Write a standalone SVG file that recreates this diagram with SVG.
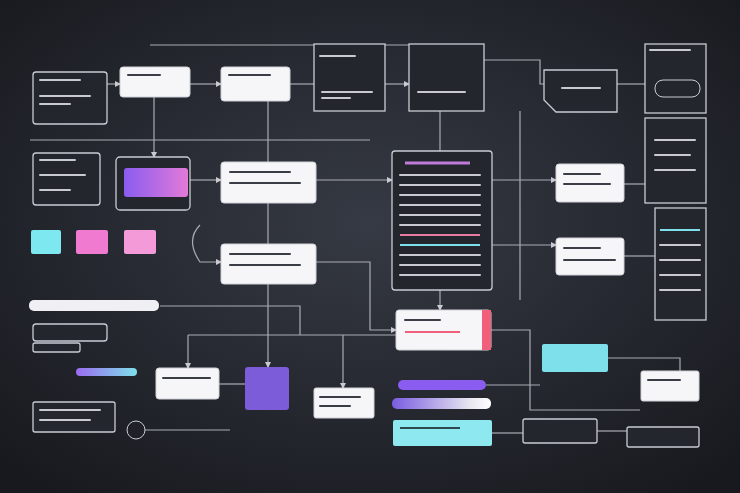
<svg xmlns="http://www.w3.org/2000/svg" width="740" height="493" viewBox="0 0 740 493">
<defs>
<radialGradient id="bg" cx="50%" cy="45%" r="70%"><stop offset="0" stop-color="#363a44"/><stop offset="1" stop-color="#17191e"/></radialGradient>
<linearGradient id="pg" x1="0" x2="1"><stop offset="0" stop-color="#8a5cf0"/><stop offset="1" stop-color="#e27ad8"/></linearGradient>
<linearGradient id="pc" x1="0" x2="1"><stop offset="0" stop-color="#9a6cf0"/><stop offset="1" stop-color="#7ee0ea"/></linearGradient>
<linearGradient id="pw" x1="0" x2="1"><stop offset="0" stop-color="#7a5ce0"/><stop offset="0.8" stop-color="#e8e8f0"/><stop offset="1" stop-color="#fff"/></linearGradient>
<marker id="a" viewBox="0 0 6 6" refX="5" refY="3" markerWidth="5" markerHeight="5" orient="auto"><path d="M0,0L6,3L0,6z" fill="#c8cad0"/></marker>
<style>
.d{fill:#23262d;stroke:#c9ccd3;stroke-width:1.3}
.w{fill:#f6f6f8;stroke:#d0d2d8;stroke-width:1}
.c{fill:none;stroke:#a9acb4;stroke-width:1.2}
.l{stroke:#c8cad0;stroke-width:2;stroke-linecap:round}
.k{stroke:#3a3d46;stroke-width:2;stroke-linecap:round}
</style>
</defs>
<rect width="740" height="493" fill="url(#bg)"/>
<g id="connectors">
<path class="c" d="M107,84H120" marker-end="url(#a)"/>
<path class="c" d="M190,84H221" marker-end="url(#a)"/>
<path class="c" d="M290,84H314"/>
<path class="c" d="M385,84H409" marker-end="url(#a)"/>
<path class="c" d="M484,60H540V84H544"/>
<path class="c" d="M617,84H645"/>
<path class="c" d="M154,97V157" marker-end="url(#a)"/>
<path class="c" d="M190,180H221" marker-end="url(#a)"/>
<path class="c" d="M316,180H392" marker-end="url(#a)"/>
<path class="c" d="M268,101V162"/>
<path class="c" d="M268,203V244"/>
<path class="c" d="M200,225Q185,240 200,262H221" marker-end="url(#a)"/>
<path class="c" d="M440,111V151"/>
<path class="c" d="M492,180H556" marker-end="url(#a)"/>
<path class="c" d="M520,111V300"/>
<path class="c" d="M492,245H556" marker-end="url(#a)"/>
<path class="c" d="M624,184H645"/>
<path class="c" d="M624,256H655"/>
<path class="c" d="M440,290V310" marker-end="url(#a)"/>
<path class="c" d="M316,262H370V330H396" marker-end="url(#a)"/>
<path class="c" d="M491,330H530V410H640"/>
<path class="c" d="M188,335H396"/>
<path class="c" d="M188,335V368" marker-end="url(#a)"/>
<path class="c" d="M268,284V367" marker-end="url(#a)"/>
<path class="c" d="M343,335V388" marker-end="url(#a)"/>
<path class="c" d="M608,358H680V371"/>
<path class="c" d="M597,431H627"/>
<path class="c" d="M492,433H523"/>
<path class="c" d="M486,385H540"/>
<path class="c" d="M219,384H245"/>
<path class="c" d="M60,330H107"/>
<path class="c" d="M145,430H230"/>
<path class="c" d="M160,306H300V335"/>
<path class="c" d="M30,140H370"/>
<path class="c" d="M150,45H440V60"/>
</g>
<g id="n1"><rect class="d" x="33" y="72" width="74" height="52" rx="3"/><line class="l" x1="40" y1="80" x2="80" y2="80"/><line class="l" x1="40" y1="96" x2="90" y2="96"/><line class="l" x1="40" y1="104" x2="70" y2="104"/></g>
<g id="n2"><rect class="w" x="120" y="67" width="70" height="30" rx="3"/><line class="k" x1="128" y1="75" x2="160" y2="75"/></g>
<g id="n3"><rect class="w" x="221" y="67" width="69" height="34" rx="3"/><line class="k" x1="229" y1="75" x2="270" y2="75"/></g>
<g id="n4"><rect class="d" x="314" y="44" width="71" height="67"/><line class="l" x1="320" y1="56" x2="355" y2="56"/><line class="l" x1="322" y1="92" x2="372" y2="92"/><line class="l" x1="322" y1="98" x2="350" y2="98"/></g>
<g id="n5"><rect class="d" x="409" y="44" width="75" height="67"/><line class="l" x1="418" y1="92" x2="465" y2="92"/></g>
<g id="n6"><path class="d" d="M544,70H617V112H556L544,100Z"/><line class="l" x1="562" y1="88" x2="600" y2="88"/></g>
<g id="n7"><rect class="d" x="645" y="44" width="61" height="69"/><rect x="655" y="80" width="45" height="17" rx="8" fill="none" stroke="#c9ccd3"/><line class="l" x1="650" y1="50" x2="690" y2="50"/></g>
<g id="n8"><rect class="d" x="645" y="118" width="61" height="85"/><line class="l" x1="655" y1="140" x2="695" y2="140"/><line class="l" x1="655" y1="155" x2="690" y2="155"/><line class="l" x1="655" y1="170" x2="695" y2="170"/></g>
<g id="n9"><rect class="d" x="655" y="208" width="51" height="112"/><line x1="660" y1="230" x2="700" y2="230" stroke="#7ee0ea" stroke-width="2"/><line class="l" x1="660" y1="245" x2="700" y2="245"/><line class="l" x1="660" y1="260" x2="700" y2="260"/><line class="l" x1="660" y1="275" x2="700" y2="275"/><line class="l" x1="660" y1="290" x2="700" y2="290"/></g>
<g id="n10"><rect class="d" x="33" y="153" width="67" height="52" rx="3"/><line class="l" x1="40" y1="160" x2="75" y2="160"/><line class="l" x1="40" y1="175" x2="85" y2="175"/><line class="l" x1="40" y1="190" x2="70" y2="190"/></g>
<g id="n11"><rect class="d" x="116" y="157" width="74" height="53" rx="4"/><rect x="124" y="168" width="64" height="29" rx="3" fill="url(#pg)"/></g>
<g id="n12"><rect class="w" x="221" y="162" width="95" height="41" rx="3"/><line class="k" x1="230" y1="172" x2="290" y2="172"/><line class="k" x1="230" y1="183" x2="300" y2="183"/></g>
<g id="n13"><rect class="d" x="392" y="151" width="100" height="139" rx="3"/><line x1="405" y1="163" x2="470" y2="163" stroke="#c07ad8" stroke-width="3"/>
<g class="l"><line x1="400" y1="175" x2="480" y2="175"/><line x1="400" y1="185" x2="480" y2="185"/><line x1="400" y1="195" x2="480" y2="195"/><line x1="400" y1="205" x2="480" y2="205"/><line x1="400" y1="215" x2="480" y2="215"/><line x1="400" y1="225" x2="480" y2="225"/><line x1="400" y1="255" x2="480" y2="255"/><line x1="400" y1="265" x2="480" y2="265"/><line x1="400" y1="275" x2="480" y2="275"/></g>
<line x1="400" y1="235" x2="480" y2="235" stroke="#e87aa0" stroke-width="2"/><line x1="400" y1="245" x2="480" y2="245" stroke="#7ee0ea" stroke-width="2"/></g>
<g id="n14"><rect class="w" x="556" y="164" width="68" height="38" rx="3"/><line class="k" x1="564" y1="174" x2="600" y2="174"/><line class="k" x1="564" y1="184" x2="610" y2="184"/></g>
<g id="n15"><rect class="w" x="221" y="244" width="95" height="40" rx="3"/><line class="k" x1="230" y1="254" x2="290" y2="254"/><line class="k" x1="230" y1="265" x2="300" y2="265"/></g>
<g id="n16"><rect x="31" y="230" width="30" height="24" rx="2" fill="#7ee8f0"/><rect x="76" y="230" width="32" height="24" rx="2" fill="#f07ad0"/><rect x="124" y="230" width="32" height="24" rx="2" fill="#f59ad8"/></g>
<g id="n17"><rect x="29" y="300" width="130" height="11" rx="5" fill="#f0f0f4"/></g>
<g id="n18"><rect class="w" x="556" y="238" width="68" height="37" rx="3"/><line class="k" x1="564" y1="248" x2="600" y2="248"/><line class="k" x1="564" y1="260" x2="615" y2="260"/></g>
<g id="n19"><rect class="w" x="396" y="310" width="95" height="40" rx="3"/><rect x="482" y="310" width="9" height="40" fill="#f0607a"/><line class="k" x1="405" y1="320" x2="440" y2="320"/><line x1="405" y1="332" x2="460" y2="332" stroke="#f0607a" stroke-width="2"/></g>
<g id="n20"><rect class="d" x="33" y="324" width="74" height="17" rx="3"/><rect class="d" x="33" y="343" width="47" height="9" rx="2"/></g>
<g id="n21"><rect x="76" y="368" width="61" height="8" rx="4" fill="url(#pc)"/></g>
<g id="n22"><rect class="w" x="156" y="368" width="63" height="31" rx="3"/><line class="k" x1="163" y1="378" x2="210" y2="378"/></g>
<g id="n23"><rect x="245" y="367" width="44" height="43" rx="3" fill="#7c5cd8"/></g>
<g id="n24"><rect class="w" x="314" y="388" width="60" height="30" rx="2"/><line class="k" x1="320" y1="397" x2="360" y2="397"/><line class="k" x1="320" y1="406" x2="350" y2="406"/></g>
<g id="n25"><rect x="398" y="380" width="88" height="10" rx="5" fill="#8a5cf0"/><rect x="392" y="398" width="99" height="11" rx="5" fill="url(#pw)"/></g>
<g id="n26"><rect x="542" y="344" width="66" height="28" rx="2" fill="#7ee0ea"/></g>
<g id="n27"><rect x="393" y="420" width="99" height="26" rx="2" fill="#8ee8f0"/><line x1="400" y1="428" x2="460" y2="428" stroke="#2a4a50" stroke-width="2"/></g>
<g id="n28"><rect class="w" x="641" y="371" width="58" height="30" rx="2"/><line class="k" x1="648" y1="380" x2="680" y2="380"/></g>
<g id="n29"><rect class="d" x="523" y="419" width="74" height="24" rx="2"/><rect class="d" x="627" y="427" width="72" height="20" rx="2"/></g>
<g id="n30"><rect class="d" x="33" y="402" width="82" height="30" rx="2"/><line class="l" x1="40" y1="410" x2="100" y2="410"/><line class="l" x1="40" y1="420" x2="90" y2="420"/><circle cx="136" cy="430" r="9" fill="none" stroke="#c9ccd3"/></g>
</svg>
